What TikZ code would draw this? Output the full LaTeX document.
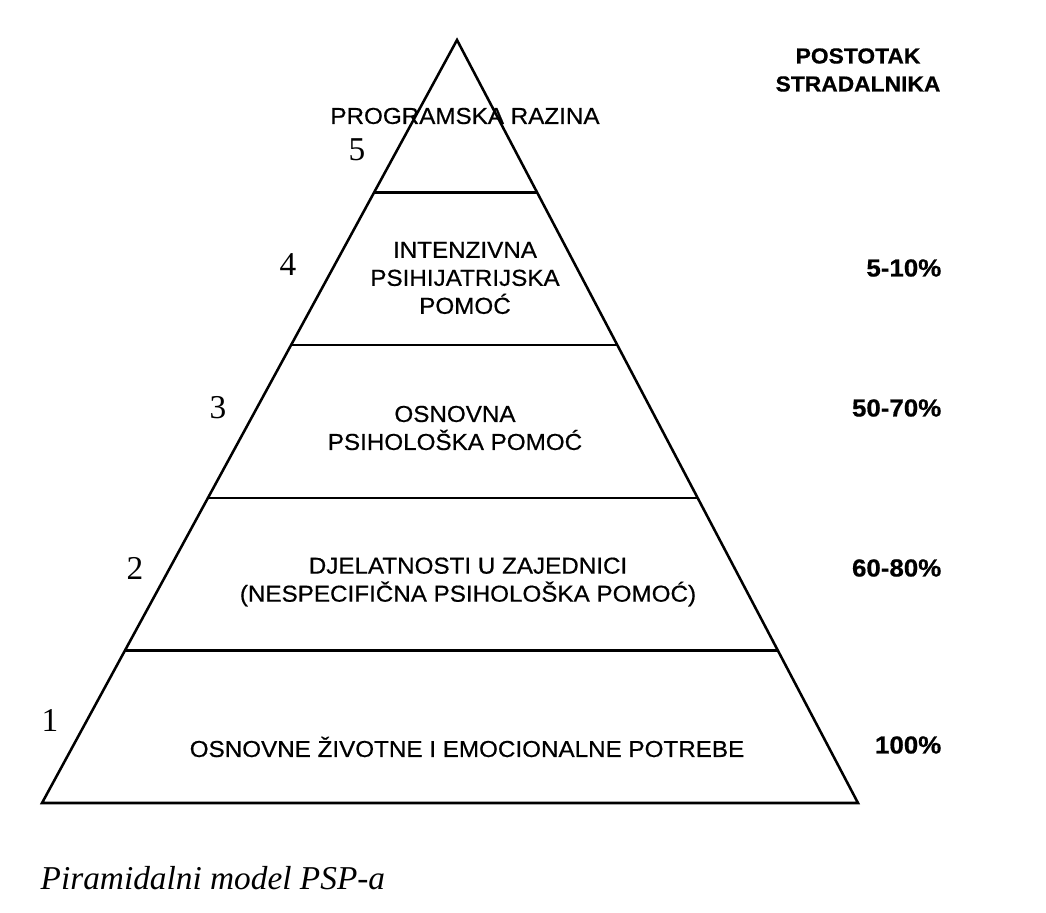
\documentclass[tikz,border=0pt]{standalone}
\usepackage{fontspec}
\setmainfont[FakeStretch=1.05, FakeBold=0.6]{Liberation Sans}
\newfontfamily\romanfont{Liberation Serif}
\usetikzlibrary{calc}

\tikzset{
  layer/.style={font=\fontsize{17.3}{21}\selectfont, align=center},
  percent/.style={font=\bfseries\fontsize{18.5}{21}\selectfont, anchor=east},
  levelno/.style={font=\romanfont\fontsize{25}{25}\selectfont},
  edge/.style={line width=1.9pt}
}

\begin{document}
\begin{tikzpicture}[x=0.75pt, y=-0.75pt]
        \useasboundingbox (0, 0) rectangle (1046, 913);

        \coordinate (T) at (457, 40);
        \coordinate (L) at (42, 803);
        \coordinate (R) at (858, 803);

        % Pyramid
        \draw[edge, line join=miter] (T) -- (L) -- (R) -- cycle;
        \foreach \t in {0.2, 0.4, 0.6, 0.8}
            \draw[edge] ($(T)!\t!(L)$) -- ($(T)!\t!(R)$);

        % Layers
        \node[layer] (lvl5) at (465, 116) {PROGRAMSKA RAZINA};
        \node[layer] (lvl4) at (465, 278) {INTENZIVNA\\PSIHIJATRIJSKA\\POMOĆ};
        \node[layer] (lvl3) at (455, 428) {OSNOVNA\\PSIHOLOŠKA POMOĆ};
        \node[layer] (lvl2) at (468, 582) {DJELATNOSTI U ZAJEDNICI\\(NESPECIFIČNA PSIHOLOŠKA POMOĆ)};
        \node[layer] (lvl1) at (467, 747) {OSNOVNE ŽIVOTNE I EMOCIONALNE POTREBE};

        % Layer numbers
        \node[levelno] (n5) at (357, 150) {5};
        \node[levelno] (n4) at (288, 265) {4};
        \node[levelno] (n3) at (218, 408) {3};
        \node[levelno] (n2) at (135, 568) {2};
        \node[levelno] (n1) at (50, 720) {1};

        % Percentages
        \node[layer, font=\bfseries\fontsize{16.3}{21}\selectfont] (head) at (858, 70) {POSTOTAK\\STRADALNIKA};
        \node[percent] (p4) at (946, 268) {5-10\%};
        \node[percent] (p3) at (946, 408) {50-70\%};
        \node[percent] (p2) at (946, 568) {60-80\%};
        \node[percent] (p1) at (946, 745) {100\%};

        % Caption
        \node[anchor=west, font=\romanfont\itshape\fontsize{25}{25}\selectfont] (caption) at (36, 878) {Piramidalni model PSP-a};

    \end{tikzpicture}
\end{document}
